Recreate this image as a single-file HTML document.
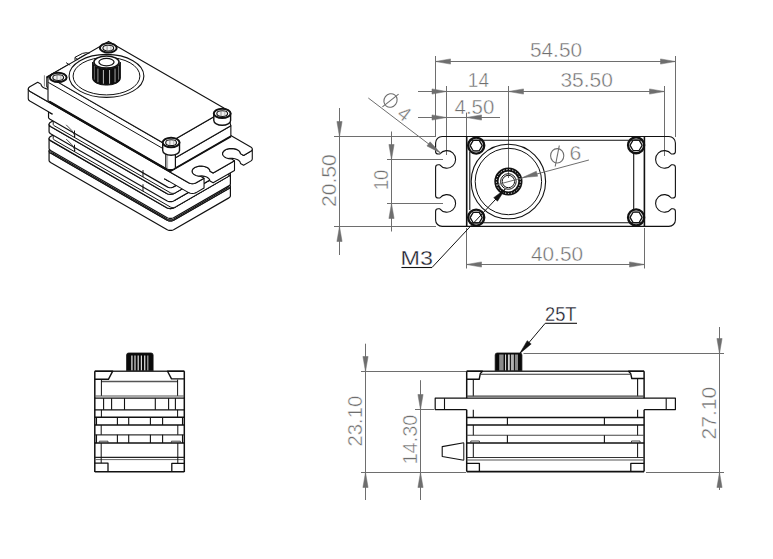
<!DOCTYPE html>
<html><head><meta charset="utf-8"><style>
html,body{margin:0;padding:0;background:#fff;width:773px;height:559px;overflow:hidden}
svg{display:block}
text{font-family:"Liberation Sans",sans-serif}
</style></head><body>
<svg width="773" height="559" viewBox="0 0 773 559">
<line x1="435.5" y1="61.5" x2="675.5" y2="61.5" stroke="#6e6e6e" stroke-width="1.0" />
<path d="M435.5 61.5 L450.5 64.1 L450.5 58.9 Z" stroke="#6e6e6e" stroke-width="0.5" fill="#6e6e6e" stroke-linejoin="round" />
<path d="M675.5 61.5 L660.5 58.9 L660.5 64.1 Z" stroke="#6e6e6e" stroke-width="0.5" fill="#6e6e6e" stroke-linejoin="round" />
<line x1="435.5" y1="56" x2="435.5" y2="137" stroke="#6e6e6e" stroke-width="1.0" />
<line x1="675.5" y1="56" x2="675.5" y2="137" stroke="#6e6e6e" stroke-width="1.0" />
<text x="530" y="57" font-size="20.5" fill="#6e6e6e" textLength="52" lengthAdjust="spacingAndGlyphs" stroke="#fff" stroke-width="0.45" >54.50</text>
<line x1="418" y1="91.5" x2="664.5" y2="91.5" stroke="#6e6e6e" stroke-width="1.0" />
<path d="M446.5 91.5 L432 88.9 L432 94.1 Z" stroke="#6e6e6e" stroke-width="0.5" fill="#6e6e6e" stroke-linejoin="round" />
<path d="M508.5 91.5 L523.5 94.1 L523.5 88.9 Z" stroke="#6e6e6e" stroke-width="0.5" fill="#6e6e6e" stroke-linejoin="round" />
<path d="M664.5 91.5 L649.5 88.9 L649.5 94.1 Z" stroke="#6e6e6e" stroke-width="0.5" fill="#6e6e6e" stroke-linejoin="round" />
<line x1="446.5" y1="86" x2="446.5" y2="155" stroke="#6e6e6e" stroke-width="1.0" />
<line x1="508.5" y1="86" x2="508.5" y2="178" stroke="#6e6e6e" stroke-width="1.0" />
<line x1="664.5" y1="86" x2="664.5" y2="156" stroke="#6e6e6e" stroke-width="1.0" />
<text x="467.8" y="87.2" font-size="20.5" fill="#6e6e6e" textLength="21.2" lengthAdjust="spacingAndGlyphs" stroke="#fff" stroke-width="0.45" >14</text>
<text x="560.4" y="87.3" font-size="20.5" fill="#6e6e6e" textLength="52.4" lengthAdjust="spacingAndGlyphs" stroke="#fff" stroke-width="0.45" >35.50</text>
<line x1="418" y1="117.5" x2="500" y2="117.5" stroke="#6e6e6e" stroke-width="1.0" />
<path d="M446.5 117.5 L432 114.9 L432 120.1 Z" stroke="#6e6e6e" stroke-width="0.5" fill="#6e6e6e" stroke-linejoin="round" />
<path d="M466.5 117.5 L481.5 120.1 L481.5 114.9 Z" stroke="#6e6e6e" stroke-width="0.5" fill="#6e6e6e" stroke-linejoin="round" />
<line x1="466.5" y1="112.6" x2="466.5" y2="137" stroke="#6e6e6e" stroke-width="1.0" />
<text x="454.6" y="114.1" font-size="20.5" fill="#6e6e6e" textLength="39.7" lengthAdjust="spacingAndGlyphs" stroke="#fff" stroke-width="0.45" >4.50</text>
<line x1="339.5" y1="108" x2="339.5" y2="255" stroke="#6e6e6e" stroke-width="1.0" />
<path d="M339.5 136.5 L342.1 121.5 L336.9 121.5 Z" stroke="#6e6e6e" stroke-width="0.5" fill="#6e6e6e" stroke-linejoin="round" />
<path d="M339.5 226.5 L336.9 241.5 L342.1 241.5 Z" stroke="#6e6e6e" stroke-width="0.5" fill="#6e6e6e" stroke-linejoin="round" />
<line x1="334" y1="136.5" x2="436" y2="136.5" stroke="#6e6e6e" stroke-width="1.0" />
<line x1="334" y1="226.5" x2="436" y2="226.5" stroke="#6e6e6e" stroke-width="1.0" />
<g transform="translate(328.2 180.6) rotate(-90)"><text x="-26.5" y="7.34" font-size="20.5" fill="#6e6e6e" textLength="53" lengthAdjust="spacingAndGlyphs" stroke="#fff" stroke-width="0.45">20.50</text></g>
<line x1="391.5" y1="131.5" x2="391.5" y2="231.5" stroke="#6e6e6e" stroke-width="1.0" />
<path d="M391.5 159.5 L394.1 144.5 L388.9 144.5 Z" stroke="#6e6e6e" stroke-width="0.5" fill="#6e6e6e" stroke-linejoin="round" />
<path d="M391.5 203.5 L388.9 218.5 L394.1 218.5 Z" stroke="#6e6e6e" stroke-width="0.5" fill="#6e6e6e" stroke-linejoin="round" />
<line x1="387" y1="159.5" x2="443" y2="159.5" stroke="#6e6e6e" stroke-width="1.0" />
<line x1="387" y1="203.5" x2="443" y2="203.5" stroke="#6e6e6e" stroke-width="1.0" />
<g transform="translate(381 180) rotate(-90)"><text x="-10.3" y="7.34" font-size="20.5" fill="#6e6e6e" textLength="20.6" lengthAdjust="spacingAndGlyphs" stroke="#fff" stroke-width="0.45">10</text></g>
<line x1="466.5" y1="264.5" x2="644.5" y2="264.5" stroke="#6e6e6e" stroke-width="1.0" />
<path d="M466.5 264.5 L481.5 267.1 L481.5 261.9 Z" stroke="#6e6e6e" stroke-width="0.5" fill="#6e6e6e" stroke-linejoin="round" />
<path d="M644.5 264.5 L629.5 261.9 L629.5 267.1 Z" stroke="#6e6e6e" stroke-width="0.5" fill="#6e6e6e" stroke-linejoin="round" />
<line x1="466.5" y1="228" x2="466.5" y2="268.5" stroke="#6e6e6e" stroke-width="1.0" />
<line x1="644.5" y1="228" x2="644.5" y2="268.5" stroke="#6e6e6e" stroke-width="1.0" />
<text x="531" y="261.1" font-size="20.5" fill="#6e6e6e" textLength="52" lengthAdjust="spacingAndGlyphs" stroke="#fff" stroke-width="0.45" >40.50</text>
<path d="M442.1 136.5 L668.9 136.5 A6.5 6.5 0 0 1 675.4 143 L675.4 151.4 Q675.4 154 672.8 154 L671.35 154 A8.8 8.8 0 1 0 671.35 164.8 L672.8 164.8 Q675.4 164.8 675.4 167.4 L675.4 195.4 Q675.4 198 672.8 198 L671.35 198 A8.8 8.8 0 1 0 671.35 208.8 L672.8 208.8 Q675.4 208.8 675.4 211.4 L675.4 219.9 A6.5 6.5 0 0 1 668.9 226.4 L442.1 226.4 A6.5 6.5 0 0 1 435.6 219.9 L435.6 211.4 Q435.6 208.8 438.2 208.8 L439.85 208.8 A8.8 8.8 0 1 0 439.85 198 L438.2 198 Q435.6 198 435.6 195.4 L435.6 167.4 Q435.6 164.8 438.2 164.8 L439.85 164.8 A8.8 8.8 0 1 0 439.85 154 L438.2 154 Q435.6 154 435.6 151.4 L435.6 143 A6.5 6.5 0 0 1 442.1 136.5 Z" stroke="#111" stroke-width="1.1" fill="none" stroke-linejoin="round" />
<line x1="466.7" y1="136.5" x2="466.7" y2="226.2" stroke="#111" stroke-width="1.6" />
<line x1="644.4" y1="136.5" x2="644.4" y2="226.2" stroke="#111" stroke-width="1.6" />
<line x1="469.8" y1="140.2" x2="641.5" y2="140.2" stroke="#111" stroke-width="1.1" />
<line x1="469.8" y1="222.7" x2="641.5" y2="222.7" stroke="#111" stroke-width="1.1" />
<line x1="469.8" y1="152" x2="469.8" y2="210" stroke="#111" stroke-width="1.1" />
<line x1="633.7" y1="154" x2="633.7" y2="210" stroke="#111" stroke-width="1.1" />
<circle cx="476.2" cy="145.6" r="8" stroke="#111" stroke-width="2.4" fill="none" />
<circle cx="476.2" cy="145.6" r="5.7" stroke="#555" stroke-width="0.6" fill="none" />
<path d="M482.2 145.6 L479.2 150.8 L473.2 150.8 L470.2 145.6 L473.2 140.4 L479.2 140.4 Z" stroke="#111" stroke-width="1.2" fill="none" stroke-linejoin="round" />
<circle cx="476.2" cy="217.6" r="8" stroke="#111" stroke-width="2.4" fill="none" />
<circle cx="476.2" cy="217.6" r="5.7" stroke="#555" stroke-width="0.6" fill="none" />
<path d="M482.2 217.6 L479.2 222.8 L473.2 222.8 L470.2 217.6 L473.2 212.4 L479.2 212.4 Z" stroke="#111" stroke-width="1.2" fill="none" stroke-linejoin="round" />
<circle cx="636.1" cy="145.3" r="8" stroke="#111" stroke-width="2.4" fill="none" />
<circle cx="636.1" cy="145.3" r="5.7" stroke="#555" stroke-width="0.6" fill="none" />
<path d="M642.1 145.3 L639.1 150.5 L633.1 150.5 L630.1 145.3 L633.1 140.1 L639.1 140.1 Z" stroke="#111" stroke-width="1.2" fill="none" stroke-linejoin="round" />
<circle cx="636.1" cy="217.4" r="8" stroke="#111" stroke-width="2.4" fill="none" />
<circle cx="636.1" cy="217.4" r="5.7" stroke="#555" stroke-width="0.6" fill="none" />
<path d="M642.1 217.4 L639.1 222.6 L633.1 222.6 L630.1 217.4 L633.1 212.2 L639.1 212.2 Z" stroke="#111" stroke-width="1.2" fill="none" stroke-linejoin="round" />
<circle cx="508.4" cy="181.5" r="37.2" stroke="#111" stroke-width="1.1" fill="none" />
<circle cx="508.4" cy="181.5" r="33.2" stroke="#111" stroke-width="1.0" fill="none" />
<circle cx="508.4" cy="181.5" r="12" stroke="#111" stroke-width="4.2" fill="none" />
<circle cx="508.4" cy="181.5" r="12" stroke="#fff" stroke-width="1.0" fill="none" stroke-dasharray="1.2 1.8"/>
<circle cx="508.4" cy="181.5" r="7.8" stroke="#111" stroke-width="1.0" fill="none" />
<circle cx="508.4" cy="181.5" r="6.2" stroke="#111" stroke-width="1.0" fill="none" />
<line x1="588.9" y1="160" x2="496" y2="185" stroke="#6e6e6e" stroke-width="1.0" />
<path d="M522.5 177.6 L537.68 176.21 L536.32 171.19 Z" stroke="#6e6e6e" stroke-width="0.5" fill="#6e6e6e" stroke-linejoin="round" />
<ellipse cx="557.2" cy="155.8" rx="6.6" ry="7.2" stroke="#6e6e6e" stroke-width="1.1" fill="none" transform="rotate(0 557.2 155.8)"/>
<line x1="559.3" y1="145.5" x2="555.2" y2="166.5" stroke="#6e6e6e" stroke-width="1.1" />
<text x="569.4" y="159.6" font-size="20.5" fill="#6e6e6e" textLength="11.8" lengthAdjust="spacingAndGlyphs" stroke="#fff" stroke-width="0.45" >6</text>
<line x1="368.3" y1="98" x2="440.5" y2="153" stroke="#6e6e6e" stroke-width="1.0" />
<path d="M440.5 153 L430.07 141.83 L426.93 145.97 Z" stroke="#6e6e6e" stroke-width="0.5" fill="#6e6e6e" stroke-linejoin="round" />
<g transform="translate(390.5 100.5) rotate(37)">
<ellipse cx="0" cy="0" rx="6.4" ry="7" stroke="#6e6e6e" stroke-width="1.1" fill="none" transform="rotate(0 0 0)"/>
<line x1="2.6" y1="-10" x2="-2.6" y2="10" stroke="#6e6e6e" stroke-width="1.1" />
</g>
<g transform="translate(404.5 113.5) rotate(37)"><text x="-5.25" y="7.34" font-size="20.5" fill="#6e6e6e" textLength="10.5" lengthAdjust="spacingAndGlyphs" stroke="#fff" stroke-width="0.45">4</text></g>
<line x1="401.4" y1="267.5" x2="432" y2="267.5" stroke="#111" stroke-width="1.1" />
<line x1="432" y1="267.5" x2="505.2" y2="189.1" stroke="#111" stroke-width="1.0" />
<path d="M505.2 189.1 L493.7 197.63 L497.5 201.17 Z" stroke="#111" stroke-width="0.5" fill="#111" stroke-linejoin="round" />
<text x="400.6" y="264.6" font-size="20.5" fill="#1b1b2b" textLength="32.4" lengthAdjust="spacingAndGlyphs" stroke="#fff" stroke-width="0.3" >M3</text>
<line x1="365.5" y1="343.7" x2="365.5" y2="500" stroke="#6e6e6e" stroke-width="1.0" />
<path d="M365.5 371.5 L368.1 356.5 L362.9 356.5 Z" stroke="#6e6e6e" stroke-width="0.5" fill="#6e6e6e" stroke-linejoin="round" />
<path d="M365.5 472.5 L362.9 487.5 L368.1 487.5 Z" stroke="#6e6e6e" stroke-width="0.5" fill="#6e6e6e" stroke-linejoin="round" />
<line x1="361" y1="371.5" x2="466" y2="371.5" stroke="#6e6e6e" stroke-width="1.0" />
<line x1="361" y1="472.5" x2="466" y2="472.5" stroke="#6e6e6e" stroke-width="1.0" />
<g transform="translate(354.8 421.1) rotate(-90)"><text x="-25.5" y="7.34" font-size="20.5" fill="#6e6e6e" textLength="51" lengthAdjust="spacingAndGlyphs" stroke="#fff" stroke-width="0.45">23.10</text></g>
<line x1="420.5" y1="380.2" x2="420.5" y2="500" stroke="#6e6e6e" stroke-width="1.0" />
<path d="M420.5 409.5 L423.1 394.5 L417.9 394.5 Z" stroke="#6e6e6e" stroke-width="0.5" fill="#6e6e6e" stroke-linejoin="round" />
<path d="M420.5 472.5 L417.9 487.5 L423.1 487.5 Z" stroke="#6e6e6e" stroke-width="0.5" fill="#6e6e6e" stroke-linejoin="round" />
<line x1="415" y1="409.5" x2="434" y2="409.5" stroke="#6e6e6e" stroke-width="1.0" />
<g transform="translate(409.4 439.6) rotate(-90)"><text x="-25" y="7.34" font-size="20.5" fill="#6e6e6e" textLength="50" lengthAdjust="spacingAndGlyphs" stroke="#fff" stroke-width="0.45">14.30</text></g>
<line x1="719.5" y1="327" x2="719.5" y2="490" stroke="#6e6e6e" stroke-width="1.0" />
<path d="M719.5 353.5 L722.1 338.5 L716.9 338.5 Z" stroke="#6e6e6e" stroke-width="0.5" fill="#6e6e6e" stroke-linejoin="round" />
<path d="M719.5 472.5 L716.9 487.5 L722.1 487.5 Z" stroke="#6e6e6e" stroke-width="0.5" fill="#6e6e6e" stroke-linejoin="round" />
<line x1="523.5" y1="353.5" x2="724" y2="353.5" stroke="#6e6e6e" stroke-width="1.0" />
<line x1="646" y1="472.5" x2="724" y2="472.5" stroke="#6e6e6e" stroke-width="1.0" />
<g transform="translate(708.2 413.1) rotate(-90)"><text x="-26.3" y="7.34" font-size="20.5" fill="#6e6e6e" textLength="52.6" lengthAdjust="spacingAndGlyphs" stroke="#fff" stroke-width="0.45">27.10</text></g>
<line x1="545.2" y1="323.3" x2="577" y2="323.3" stroke="#111" stroke-width="1.1" />
<line x1="545.2" y1="323.3" x2="519.6" y2="353.7" stroke="#111" stroke-width="1.0" />
<path d="M519.6 353.7 L531.19 343.97 L527.21 340.63 Z" stroke="#111" stroke-width="0.5" fill="#111" stroke-linejoin="round" />
<text x="545" y="320.6" font-size="20.5" fill="#1b1b2b" textLength="31.5" lengthAdjust="spacingAndGlyphs" stroke="#fff" stroke-width="0.3" >25T</text>
<path d="M495.2 371 L495.2 355 Q495.2 353 497.2 353 L519.9 353 Q521.9 353 521.9 355 L521.9 371 Z" stroke="#111" stroke-width="0.8" fill="#0a0a0a" stroke-linejoin="round" />
<rect x="499.2" y="354.5" width="4.4" height="16" fill="#8a8a8a"/>
<rect x="505.1" y="354.5" width="1" height="16" fill="#e8e8e8"/>
<rect x="507.9" y="354.5" width="1.9" height="16" fill="#d0d0d0"/>
<rect x="510.9" y="354.5" width="3" height="16" fill="#b0b0b0"/>
<rect x="514.9" y="354.5" width="3.1" height="16" fill="#8a8a8a"/>
<line x1="466.7" y1="371.3" x2="644.1" y2="371.3" stroke="#333" stroke-width="1.4" />
<line x1="480.8" y1="374.2" x2="630" y2="374.2" stroke="#333" stroke-width="1.1" />
<path d="M466.7 371.2 L482.4 371.2 L480.3 373.6 L479.2 379.3 L466.7 379.3" stroke="#111" stroke-width="1.4" fill="none" stroke-linejoin="round" />
<path d="M644.1 371.2 L628.6 371.2 L630.7 373.6 L631.8 378.5 L644.1 378.5" stroke="#111" stroke-width="1.4" fill="none" stroke-linejoin="round" />
<line x1="466.7" y1="371.2" x2="466.7" y2="398.2" stroke="#111" stroke-width="1.5" />
<line x1="644.1" y1="371.2" x2="644.1" y2="398.2" stroke="#111" stroke-width="1.5" />
<line x1="473.3" y1="379.3" x2="473.3" y2="396.2" stroke="#111" stroke-width="1.1" />
<line x1="637.6" y1="378.5" x2="637.6" y2="396.2" stroke="#111" stroke-width="1.1" />
<line x1="466.7" y1="396.1" x2="644.1" y2="396.1" stroke="#444" stroke-width="1.1" />
<path d="M466.7 409.6 L435.2 409.6 L435.2 398.2 L675.4 398.2 L675.4 409.6 L644.1 409.6" stroke="#111" stroke-width="1.2" fill="none" stroke-linejoin="round" />
<line x1="444.5" y1="398.2" x2="444.5" y2="409.7" stroke="#111" stroke-width="1.1" />
<line x1="666.2" y1="398.2" x2="666.2" y2="409.7" stroke="#111" stroke-width="1.1" />
<line x1="466.7" y1="409.7" x2="466.7" y2="471.6" stroke="#111" stroke-width="1.5" />
<line x1="644.1" y1="409.7" x2="644.1" y2="471.6" stroke="#111" stroke-width="1.5" />
<line x1="473.3" y1="409.7" x2="473.3" y2="417.4" stroke="#111" stroke-width="1.1" />
<line x1="637.6" y1="409.7" x2="637.6" y2="417.4" stroke="#111" stroke-width="1.1" />
<line x1="466.7" y1="417.4" x2="644.1" y2="417.4" stroke="#111" stroke-width="1.5" />
<line x1="466.7" y1="425" x2="644.1" y2="425" stroke="#111" stroke-width="1.5" />
<line x1="466.7" y1="435.3" x2="644.1" y2="435.3" stroke="#444" stroke-width="1.1" />
<line x1="466.7" y1="443" x2="644.1" y2="443" stroke="#111" stroke-width="1.5" />
<line x1="466.7" y1="457.5" x2="644.1" y2="457.5" stroke="#333" stroke-width="1.1" />
<line x1="466.7" y1="460" x2="644.1" y2="460" stroke="#555" stroke-width="1.0" />
<line x1="466.7" y1="471.6" x2="644.1" y2="471.6" stroke="#111" stroke-width="1.6" />
<line x1="507.4" y1="417.4" x2="507.4" y2="425" stroke="#111" stroke-width="1.1" />
<line x1="507.4" y1="435.3" x2="507.4" y2="443" stroke="#111" stroke-width="1.1" />
<line x1="604.4" y1="417.4" x2="604.4" y2="425" stroke="#111" stroke-width="1.1" />
<line x1="604.4" y1="435.3" x2="604.4" y2="443" stroke="#111" stroke-width="1.1" />
<line x1="473.3" y1="425" x2="473.3" y2="435.3" stroke="#111" stroke-width="1.0" />
<line x1="637.6" y1="425" x2="637.6" y2="435.3" stroke="#111" stroke-width="1.0" />
<line x1="473.3" y1="443" x2="473.3" y2="457.5" stroke="#111" stroke-width="1.0" />
<line x1="637.6" y1="443" x2="637.6" y2="457.5" stroke="#111" stroke-width="1.0" />
<path d="M466.7 463.3 L479.4 463.3 L479.4 471.6" stroke="#111" stroke-width="1.3" fill="none" stroke-linejoin="round" />
<path d="M644.1 463.3 L630.8 463.3 L630.8 471.6" stroke="#111" stroke-width="1.3" fill="none" stroke-linejoin="round" />
<path d="M470.8 443 L470.8 441 L479.4 441 L479.4 443" stroke="#333" stroke-width="0.9" fill="none" stroke-linejoin="round" />
<path d="M631.5 443 L631.5 441 L640 441 L640 443" stroke="#333" stroke-width="0.9" fill="none" stroke-linejoin="round" />
<path d="M463.8 442.8 L442.2 446.6 L442.2 456.5 L463.8 460.2" stroke="#111" stroke-width="1.1" fill="none" stroke-linejoin="round" />
<line x1="463.8" y1="442.8" x2="463.8" y2="460.2" stroke="#111" stroke-width="1.0" />
<path d="M126.6 371 L126.6 355 Q126.6 353 128.6 353 L151.1 353 Q153.1 353 153.1 355 L153.1 371 Z" stroke="#111" stroke-width="0.8" fill="#0a0a0a" stroke-linejoin="round" />
<rect x="131.2" y="355.5" width="1.4" height="15" fill="#cfcfcf"/>
<rect x="134.4" y="355.5" width="1.2" height="15" fill="#dcdcdc"/>
<rect x="137.6" y="355.5" width="1.2" height="15" fill="#e0e0e0"/>
<rect x="140.8" y="355.5" width="1.2" height="15" fill="#d8d8d8"/>
<rect x="144" y="355.5" width="1.4" height="15" fill="#c8c8c8"/>
<rect x="147.2" y="355.5" width="1.2" height="15" fill="#aaaaaa"/>
<line x1="94.8" y1="371.3" x2="184.3" y2="371.3" stroke="#333" stroke-width="1.4" />
<path d="M94.8 371.2 L112.7 371.2 L108.4 379.3 L94.8 379.3" stroke="#111" stroke-width="1.4" fill="none" stroke-linejoin="round" />
<path d="M184.3 371.2 L167.5 371.2 L171.5 378.9 L184.3 378.9" stroke="#111" stroke-width="1.4" fill="none" stroke-linejoin="round" />
<line x1="101" y1="381.5" x2="178" y2="381.5" stroke="#555" stroke-width="1.4" />
<line x1="94.8" y1="371.2" x2="94.8" y2="472" stroke="#111" stroke-width="1.5" />
<line x1="184.3" y1="371.2" x2="184.3" y2="472" stroke="#111" stroke-width="1.5" />
<line x1="101.4" y1="379.5" x2="101.4" y2="396" stroke="#111" stroke-width="1.0" />
<line x1="177.6" y1="379.5" x2="177.6" y2="396" stroke="#111" stroke-width="1.0" />
<line x1="94.8" y1="396" x2="184.3" y2="396" stroke="#555" stroke-width="1.1" />
<line x1="94.8" y1="398.2" x2="184.3" y2="398.2" stroke="#111" stroke-width="1.3" />
<line x1="94.8" y1="409.8" x2="184.3" y2="409.8" stroke="#111" stroke-width="1.3" />
<line x1="94.8" y1="417.3" x2="184.3" y2="417.3" stroke="#111" stroke-width="1.5" />
<line x1="94.8" y1="425" x2="184.3" y2="425" stroke="#111" stroke-width="1.5" />
<line x1="94.8" y1="434.8" x2="184.3" y2="434.8" stroke="#333" stroke-width="1.2" />
<line x1="94.8" y1="443.1" x2="184.3" y2="443.1" stroke="#111" stroke-width="1.5" />
<line x1="94.8" y1="457.4" x2="184.3" y2="457.4" stroke="#222" stroke-width="1.4" />
<line x1="94.8" y1="459.6" x2="184.3" y2="459.6" stroke="#666" stroke-width="1.0" />
<line x1="94.8" y1="471.8" x2="184.3" y2="471.8" stroke="#111" stroke-width="1.6" />
<line x1="103.6" y1="398.2" x2="103.6" y2="409.8" stroke="#111" stroke-width="1.1" />
<line x1="111.6" y1="398.2" x2="111.6" y2="409.8" stroke="#111" stroke-width="1.1" />
<line x1="124.5" y1="398.2" x2="124.5" y2="409.8" stroke="#111" stroke-width="1.1" />
<line x1="155.3" y1="398.2" x2="155.3" y2="409.8" stroke="#111" stroke-width="1.1" />
<line x1="168.6" y1="398.2" x2="168.6" y2="409.8" stroke="#111" stroke-width="1.1" />
<line x1="175.4" y1="398.2" x2="175.4" y2="409.8" stroke="#111" stroke-width="1.1" />
<line x1="101.4" y1="409.8" x2="101.4" y2="417.3" stroke="#111" stroke-width="1.0" />
<line x1="177.6" y1="409.8" x2="177.6" y2="417.3" stroke="#111" stroke-width="1.0" />
<line x1="96.5" y1="417.3" x2="96.5" y2="425" stroke="#111" stroke-width="1.1" />
<line x1="96.5" y1="434.8" x2="96.5" y2="443.1" stroke="#111" stroke-width="1.1" />
<line x1="117.4" y1="417.3" x2="117.4" y2="425" stroke="#111" stroke-width="1.1" />
<line x1="117.4" y1="434.8" x2="117.4" y2="443.1" stroke="#111" stroke-width="1.1" />
<line x1="128.7" y1="417.3" x2="128.7" y2="425" stroke="#111" stroke-width="1.1" />
<line x1="128.7" y1="434.8" x2="128.7" y2="443.1" stroke="#111" stroke-width="1.1" />
<line x1="150.4" y1="417.3" x2="150.4" y2="425" stroke="#111" stroke-width="1.1" />
<line x1="150.4" y1="434.8" x2="150.4" y2="443.1" stroke="#111" stroke-width="1.1" />
<line x1="162.6" y1="417.3" x2="162.6" y2="425" stroke="#111" stroke-width="1.1" />
<line x1="162.6" y1="434.8" x2="162.6" y2="443.1" stroke="#111" stroke-width="1.1" />
<line x1="182.5" y1="417.3" x2="182.5" y2="425" stroke="#111" stroke-width="1.1" />
<line x1="182.5" y1="434.8" x2="182.5" y2="443.1" stroke="#111" stroke-width="1.1" />
<line x1="101.2" y1="425" x2="101.2" y2="434.8" stroke="#111" stroke-width="1.0" />
<line x1="177.8" y1="425" x2="177.8" y2="434.8" stroke="#111" stroke-width="1.0" />
<line x1="101.2" y1="443.1" x2="101.2" y2="463.2" stroke="#111" stroke-width="1.0" />
<line x1="177.8" y1="443.1" x2="177.8" y2="463.2" stroke="#111" stroke-width="1.0" />
<path d="M99.3 443.1 L99.3 441.2 L108 441.2 L108 443.1" stroke="#333" stroke-width="0.9" fill="none" stroke-linejoin="round" />
<path d="M171.4 443.1 L171.4 441.2 L180.4 441.2 L180.4 443.1" stroke="#333" stroke-width="0.9" fill="none" stroke-linejoin="round" />
<path d="M94.8 463.2 L108 463.2 L108 471.8" stroke="#111" stroke-width="1.3" fill="none" stroke-linejoin="round" />
<path d="M184.3 463.3 L171.8 463.3 L171.8 471.8" stroke="#111" stroke-width="1.3" fill="none" stroke-linejoin="round" />
<path d="M49.07 150.9 L49.24 151.67 L49.76 152.38 L50.58 153 L166.78 220.07 L167.84 220.54 L169.08 220.84 L170.41 220.94 L171.74 220.84 L172.98 220.54 L174.05 220.07 L228.89 188.41 L229.71 187.8 L230.22 187.08 L230.4 186.32 L230.4 195.78 L230.22 196.55 L229.71 197.26 L228.89 197.88 L174.05 229.54 L172.98 230.01 L171.74 230.3 L170.41 230.4 L169.08 230.3 L167.84 230.01 L166.78 229.54 L50.58 162.46 L49.76 161.85 L49.24 161.13 L49.07 160.36 Z" stroke="#111" stroke-width="1.2" fill="#fff" stroke-linejoin="round" />
<path d="M166.78 220.07 L167.84 220.54 L169.08 220.84 L170.41 220.94 L171.74 220.84 L172.98 220.54 L174.05 220.07 L228.89 188.41 L229.71 187.8 L230.22 187.08 L230.4 186.32 L230.22 185.55 L229.71 184.83 L228.89 184.22 L112.69 117.14 L111.63 116.67 L110.39 116.37 L109.05 116.27 L107.72 116.37 L106.48 116.67 L105.42 117.14 L50.58 148.8 L49.76 149.41 L49.24 150.13 L49.07 150.9 L49.24 151.67 L49.76 152.38 L50.58 153 Z" stroke="#111" stroke-width="1.2" fill="#fff" stroke-linejoin="round" />
<path d="M50.84 148.35 L50.98 148.99 L51.41 149.59 L52.09 150.1 L167.38 216.65 L168.27 217.04 L169.3 217.29 L170.41 217.37 L171.52 217.29 L172.55 217.04 L173.44 216.65 L227.38 185.52 L228.06 185 L228.49 184.41 L228.63 183.77 L228.63 186.32 L228.49 186.96 L228.06 187.55 L227.38 188.06 L173.44 219.2 L172.55 219.59 L171.52 219.84 L170.41 219.92 L169.3 219.84 L168.27 219.59 L167.38 219.2 L52.09 152.65 L51.41 152.14 L50.98 151.54 L50.84 150.9 Z" stroke="#111" stroke-width="1.1" fill="#fff" stroke-linejoin="round" />
<path d="M167.38 216.65 L168.27 217.04 L169.3 217.29 L170.41 217.37 L171.52 217.29 L172.55 217.04 L173.44 216.65 L227.38 185.52 L228.06 185 L228.49 184.41 L228.63 183.77 L228.49 183.13 L228.06 182.53 L227.38 182.02 L112.08 115.47 L111.2 115.08 L110.16 114.83 L109.05 114.74 L107.95 114.83 L106.91 115.08 L106.02 115.47 L52.09 146.6 L51.41 147.11 L50.98 147.71 L50.84 148.35 L50.98 148.99 L51.41 149.59 L52.09 150.1 Z" stroke="#111" stroke-width="1.1" fill="#fff" stroke-linejoin="round" />
<path d="M49.07 138.52 L49.24 139.29 L49.76 140.01 L50.58 140.62 L166.78 207.7 L167.84 208.17 L169.08 208.46 L170.41 208.56 L171.74 208.46 L172.98 208.17 L174.05 207.7 L228.89 176.04 L229.71 175.42 L230.22 174.71 L230.4 173.94 L230.4 183.77 L230.22 184.54 L229.71 185.25 L228.89 185.87 L174.05 217.52 L172.98 217.99 L171.74 218.29 L170.41 218.39 L169.08 218.29 L167.84 217.99 L166.78 217.52 L50.58 150.45 L49.76 149.83 L49.24 149.12 L49.07 148.35 Z" stroke="#111" stroke-width="1.2" fill="#fff" stroke-linejoin="round" />
<path d="M166.78 207.7 L167.84 208.17 L169.08 208.46 L170.41 208.56 L171.74 208.46 L172.98 208.17 L174.05 207.7 L228.89 176.04 L229.71 175.42 L230.22 174.71 L230.4 173.94 L230.22 173.17 L229.71 172.46 L228.89 171.84 L112.69 104.77 L111.63 104.29 L110.39 104 L109.05 103.9 L107.72 104 L106.48 104.29 L105.42 104.77 L50.58 136.42 L49.76 137.04 L49.24 137.75 L49.07 138.52 L49.24 139.29 L49.76 140.01 L50.58 140.62 Z" stroke="#111" stroke-width="1.2" fill="#fff" stroke-linejoin="round" />
<path d="M53.21 131.61 L53.32 132.12 L53.67 132.6 L54.21 133.01 L170.41 200.08 L171.12 200.39 L171.95 200.59 L172.84 200.66 L173.72 200.59 L174.55 200.39 L175.26 200.08 L227.68 169.82 L228.22 169.41 L228.57 168.93 L228.68 168.42 L228.68 175.34 L228.57 175.85 L228.22 176.33 L227.68 176.74 L175.26 207 L174.55 207.31 L173.72 207.51 L172.84 207.58 L171.95 207.51 L171.12 207.31 L170.41 207 L54.21 139.92 L53.67 139.51 L53.32 139.03 L53.21 138.52 Z" stroke="#111" stroke-width="1.0" fill="#fff" stroke-linejoin="round" />
<path d="M170.41 200.08 L171.12 200.39 L171.95 200.59 L172.84 200.66 L173.72 200.59 L174.55 200.39 L175.26 200.08 L227.68 169.82 L228.22 169.41 L228.57 168.93 L228.68 168.42 L228.57 167.91 L228.22 167.43 L227.68 167.02 L111.48 99.95 L110.77 99.63 L109.94 99.44 L109.05 99.37 L108.17 99.44 L107.34 99.63 L106.63 99.95 L54.21 130.21 L53.67 130.62 L53.32 131.09 L53.21 131.61 L53.32 132.12 L53.67 132.6 L54.21 133.01 Z" stroke="#111" stroke-width="1.0" fill="#fff" stroke-linejoin="round" />
<path d="M49.07 124.33 L49.24 125.09 L49.76 125.81 L50.58 126.43 L166.78 193.5 L167.84 193.97 L169.08 194.27 L170.41 194.37 L171.74 194.27 L172.98 193.97 L174.05 193.5 L228.89 161.84 L229.71 161.23 L230.22 160.51 L230.4 159.74 L230.4 167.02 L230.22 167.79 L229.71 168.51 L228.89 169.12 L174.05 200.78 L172.98 201.25 L171.74 201.55 L170.41 201.65 L169.08 201.55 L167.84 201.25 L166.78 200.78 L50.58 133.71 L49.76 133.09 L49.24 132.37 L49.07 131.61 Z" stroke="#111" stroke-width="1.2" fill="#fff" stroke-linejoin="round" />
<path d="M166.78 193.5 L167.84 193.97 L169.08 194.27 L170.41 194.37 L171.74 194.27 L172.98 193.97 L174.05 193.5 L228.89 161.84 L229.71 161.23 L230.22 160.51 L230.4 159.74 L230.22 158.98 L229.71 158.26 L228.89 157.64 L112.69 90.57 L111.63 90.1 L110.39 89.8 L109.05 89.7 L107.72 89.8 L106.48 90.1 L105.42 90.57 L50.58 122.23 L49.76 122.84 L49.24 123.56 L49.07 124.33 L49.24 125.09 L49.76 125.81 L50.58 126.43 Z" stroke="#111" stroke-width="1.2" fill="#fff" stroke-linejoin="round" />
<path d="M53.21 117.41 L53.32 117.92 L53.67 118.4 L54.21 118.81 L170.41 185.88 L171.12 186.2 L171.95 186.4 L172.84 186.46 L173.72 186.4 L174.55 186.2 L175.26 185.88 L227.68 155.63 L228.22 155.22 L228.57 154.74 L228.68 154.23 L228.68 161.14 L228.57 161.65 L228.22 162.13 L227.68 162.54 L175.26 192.8 L174.55 193.11 L173.72 193.31 L172.84 193.38 L171.95 193.31 L171.12 193.11 L170.41 192.8 L54.21 125.73 L53.67 125.32 L53.32 124.84 L53.21 124.33 Z" stroke="#111" stroke-width="1.0" fill="#fff" stroke-linejoin="round" />
<path d="M170.41 185.88 L171.12 186.2 L171.95 186.4 L172.84 186.46 L173.72 186.4 L174.55 186.2 L175.26 185.88 L227.68 155.63 L228.22 155.22 L228.57 154.74 L228.68 154.23 L228.57 153.71 L228.22 153.24 L227.68 152.83 L111.48 85.75 L110.77 85.44 L109.94 85.24 L109.05 85.17 L108.17 85.24 L107.34 85.44 L106.63 85.75 L54.21 116.01 L53.67 116.42 L53.32 116.9 L53.21 117.41 L53.32 117.92 L53.67 118.4 L54.21 118.81 Z" stroke="#111" stroke-width="1.0" fill="#fff" stroke-linejoin="round" />
<path d="M48.54 110.86 L48.67 111.43 L49.05 111.97 L49.67 112.43 L167.69 180.56 L168.48 180.91 L169.41 181.13 L170.41 181.21 L171.41 181.13 L172.34 180.91 L173.14 180.56 L229.8 147.85 L230.41 147.39 L230.8 146.85 L230.93 146.28 L230.93 152.83 L230.8 153.4 L230.41 153.94 L229.8 154.4 L173.14 187.11 L172.34 187.46 L171.41 187.68 L170.41 187.76 L169.41 187.68 L168.48 187.46 L167.69 187.11 L49.67 118.98 L49.05 118.52 L48.67 117.99 L48.54 117.41 Z" stroke="#111" stroke-width="1.2" fill="#fff" stroke-linejoin="round" />
<path d="M167.69 180.56 L168.48 180.91 L169.41 181.13 L170.41 181.21 L171.41 181.13 L172.34 180.91 L173.14 180.56 L229.8 147.85 L230.41 147.39 L230.8 146.85 L230.93 146.28 L230.8 145.7 L230.41 145.16 L229.8 144.7 L111.78 76.58 L110.98 76.22 L110.05 76 L109.05 75.93 L108.06 76 L107.13 76.22 L106.33 76.58 L49.67 109.28 L49.05 109.75 L48.67 110.28 L48.54 110.86 L48.67 111.43 L49.05 111.97 L49.67 112.43 Z" stroke="#111" stroke-width="1.2" fill="#fff" stroke-linejoin="round" />
<line x1="74.51" y1="151.64" x2="74.51" y2="144.72" stroke="#111" stroke-width="1.0" />
<line x1="74.51" y1="137.44" x2="74.51" y2="130.53" stroke="#111" stroke-width="1.0" />
<line x1="142.99" y1="191.17" x2="142.99" y2="184.25" stroke="#111" stroke-width="1.0" />
<line x1="142.99" y1="176.97" x2="142.99" y2="170.06" stroke="#111" stroke-width="1.0" />
<path d="M66.18 139.04 Q72.85 144.53 75.27 150.47" stroke="#333" stroke-width="0.9" fill="none" stroke-linejoin="round" />
<path d="M66.18 124.84 Q72.85 130.33 75.27 136.28" stroke="#333" stroke-width="0.9" fill="none" stroke-linejoin="round" />
<path d="M77.24 59.4 L80.51 61.29 L83.11 61.53 L85.48 62.19 L87.41 63.22 L88.75 64.52 L89.38 66 L89.38 75.83 L88.75 74.35 L87.41 73.05 L85.48 72.02 L83.11 71.36 L80.51 71.12 L77.24 69.23 Z" stroke="#111" stroke-width="1.1" fill="#fff" stroke-linejoin="round" />
<path d="M46.79 76.98 L50.06 78.87 L52.66 79.11 L55.03 79.77 L56.96 80.8 L58.3 82.1 L58.93 83.58 L58.93 93.4 L58.3 91.93 L56.96 90.62 L55.03 89.6 L52.66 88.94 L50.06 88.7 L46.79 86.81 Z" stroke="#111" stroke-width="1.1" fill="#fff" stroke-linejoin="round" />
<path d="M222.51 154.16 L222.65 152.65 L223.54 151.22 L225.1 150 L227.21 149.1 L229.69 148.58 L232.31 148.5 L234.87 148.87 L237.13 149.64 L238.91 150.76 L240.05 152.12 L240.46 153.62 L243.59 155.42 L250.71 151.31 L251.87 150.31 L252.28 149.13 L252.28 158.96 L251.87 160.14 L250.71 161.14 L243.59 165.25 L240.46 163.45 L240.05 161.95 L238.91 160.58 L237.13 159.47 L234.87 158.69 L232.31 158.33 L229.69 158.41 L227.21 158.93 L225.1 159.83 L223.54 161.05 L222.65 162.48 L222.51 163.99 Z" stroke="#111" stroke-width="1.1" fill="#fff" stroke-linejoin="round" />
<path d="M28.25 88.96 L28.66 90.15 L29.82 91.15 L188.59 182.8 L190.33 183.47 L192.38 183.7 L194.43 183.47 L196.17 182.8 L204.04 178.25 L204.04 188.08 L196.17 192.62 L194.43 193.29 L192.38 193.53 L190.33 193.29 L188.59 192.62 L29.82 100.98 L28.66 99.97 L28.25 98.79 Z" stroke="#111" stroke-width="1.1" fill="#fff" stroke-linejoin="round" />
<path d="M192.06 171.74 L192.19 170.23 L193.08 168.8 L194.65 167.58 L196.76 166.67 L199.24 166.16 L201.86 166.08 L204.42 166.44 L206.68 167.22 L208.46 168.33 L209.6 169.7 L210.01 171.2 L213.13 173 L234.5 160.67 L234.5 170.5 L213.13 182.83 L210.01 181.03 L209.6 179.53 L208.46 178.16 L206.68 177.04 L204.42 176.27 L201.86 175.91 L199.24 175.99 L196.76 176.5 L194.65 177.41 L193.08 178.63 L192.19 180.05 L192.06 181.57 Z" stroke="#111" stroke-width="1.1" fill="#fff" stroke-linejoin="round" />
<path d="M188.59 182.8 L190.33 183.47 L192.38 183.7 L194.43 183.47 L196.17 182.8 L204.04 178.25 L200.92 176.45 L198.33 176.21 L195.96 175.55 L194.02 174.52 L192.68 173.22 L192.06 171.74 L192.19 170.23 L193.08 168.8 L194.65 167.58 L196.76 166.67 L199.24 166.16 L201.86 166.08 L204.42 166.44 L206.68 167.22 L208.46 168.33 L209.6 169.7 L210.01 171.2 L213.13 173 L234.5 160.67 L231.37 158.87 L228.78 158.63 L226.41 157.97 L224.47 156.94 L223.14 155.64 L222.51 154.16 L222.65 152.65 L223.54 151.22 L225.1 150 L227.21 149.1 L229.69 148.58 L232.31 148.5 L234.87 148.87 L237.13 149.64 L238.91 150.76 L240.05 152.12 L240.46 153.62 L243.59 155.42 L250.71 151.31 L251.87 150.31 L252.28 149.13 L251.87 147.94 L250.71 146.94 L91.94 55.29 L90.2 54.62 L88.15 54.39 L86.1 54.62 L84.36 55.29 L77.24 59.4 L80.51 61.29 L83.11 61.53 L85.48 62.19 L87.41 63.22 L88.75 64.52 L89.38 66 L89.24 67.51 L88.35 68.94 L86.78 70.16 L84.67 71.07 L82.2 71.58 L79.57 71.66 L77.02 71.3 L74.76 70.52 L72.98 69.41 L71.83 68.04 L71.42 66.54 L68.15 64.65 L46.79 76.98 L50.06 78.87 L52.66 79.11 L55.03 79.77 L56.96 80.8 L58.3 82.1 L58.93 83.58 L58.79 85.09 L57.9 86.52 L56.33 87.74 L54.22 88.64 L51.75 89.16 L49.12 89.24 L46.57 88.87 L44.31 88.1 L42.53 86.98 L41.38 85.62 L40.97 84.12 L37.7 82.23 L29.82 86.78 L28.66 87.78 L28.25 88.96 L28.66 90.15 L29.82 91.15 Z" stroke="#111" stroke-width="1.1" fill="#fff" stroke-linejoin="round" />
<line x1="52.7" y1="114.18" x2="164.2" y2="178.54" stroke="#fff" stroke-width="3.2" />
<path d="M48 100.77 L48 76.38 L165.87 144.42 L170.26 160.78 L170.26 171.34 Z" stroke="#111" stroke-width="1.1" fill="#fff" stroke-linejoin="round" />
<path d="M170.26 160.78 L230.86 125.8 L230.86 136.36 L170.26 171.34 Z" stroke="#111" stroke-width="1.1" fill="#fff" stroke-linejoin="round" />
<path d="M165.87 144.42 L226.47 109.44 L230.86 125.8 L170.26 160.78 Z" stroke="#111" stroke-width="1.1" fill="#fff" stroke-linejoin="round" />
<path d="M48 76.38 L165.87 144.42 L226.47 109.44 L108.6 41.4 Z" stroke="#111" stroke-width="1.1" fill="#fff" stroke-linejoin="round" />
<line x1="49.52" y1="101.64" x2="170.26" y2="171.34" stroke="#111" stroke-width="1.8" />
<line x1="48.3" y1="82.38" x2="164.05" y2="149.19" stroke="#111" stroke-width="1.0" />
<line x1="170.26" y1="171.34" x2="230.86" y2="136.36" stroke="#111" stroke-width="1.8" />
<line x1="50.88" y1="102.6" x2="167.08" y2="169.68" stroke="#111" stroke-width="1.0" />
<path d="M165.8 150.5 L165.8 167.2 A4.8 2.4 0 0 0 175.4 167.2 L175.4 150.5 Z" fill="#fff" stroke="#111" stroke-width="1.2"/>
<line x1="167.6" y1="153" x2="167.6" y2="168" stroke="#999" stroke-width="0.8" />
<ellipse cx="58.2" cy="77.4" rx="8.4" ry="4.7" stroke="#111" stroke-width="2.0" fill="#fff" transform="rotate(0 58.2 77.4)"/>
<ellipse cx="58.2" cy="77.6" rx="5.4" ry="2.9" stroke="#111" stroke-width="1.1" fill="#f0f0f0" transform="rotate(0 58.2 77.6)"/>
<line x1="57" y1="74.9" x2="57" y2="80.3" stroke="#888" stroke-width="0.9" />
<line x1="60.8" y1="75.2" x2="60.8" y2="80" stroke="#aaa" stroke-width="0.8" />
<ellipse cx="108.3" cy="47.9" rx="8.4" ry="4.7" stroke="#111" stroke-width="2.0" fill="#fff" transform="rotate(0 108.3 47.9)"/>
<ellipse cx="108.3" cy="48.1" rx="5.4" ry="2.9" stroke="#111" stroke-width="1.1" fill="#f0f0f0" transform="rotate(0 108.3 48.1)"/>
<line x1="107.1" y1="45.4" x2="107.1" y2="50.8" stroke="#888" stroke-width="0.9" />
<line x1="110.9" y1="45.7" x2="110.9" y2="50.5" stroke="#aaa" stroke-width="0.8" />
<path d="M162.7 142.5 L162.7 150.5 A8.4 4.8 0 0 0 179.5 150.5 L179.5 142.5 Z" fill="#fff" stroke="#111" stroke-width="1.4"/>
<ellipse cx="171.1" cy="142.5" rx="8.4" ry="4.7" stroke="#111" stroke-width="2.0" fill="#fff" transform="rotate(0 171.1 142.5)"/>
<ellipse cx="171.1" cy="142.7" rx="5.4" ry="2.9" stroke="#111" stroke-width="1.1" fill="#f0f0f0" transform="rotate(0 171.1 142.7)"/>
<line x1="169.9" y1="140" x2="169.9" y2="145.4" stroke="#888" stroke-width="0.9" />
<line x1="173.7" y1="140.3" x2="173.7" y2="145.1" stroke="#aaa" stroke-width="0.8" />
<path d="M213.8 113.4 L213.8 120.4 A8.4 4.8 0 0 0 230.6 120.4 L230.6 113.4 Z" fill="#fff" stroke="#111" stroke-width="1.4"/>
<ellipse cx="222.2" cy="113.4" rx="8.4" ry="4.7" stroke="#111" stroke-width="2.0" fill="#fff" transform="rotate(0 222.2 113.4)"/>
<ellipse cx="222.2" cy="113.6" rx="5.4" ry="2.9" stroke="#111" stroke-width="1.1" fill="#f0f0f0" transform="rotate(0 222.2 113.6)"/>
<line x1="221" y1="110.9" x2="221" y2="116.3" stroke="#888" stroke-width="0.9" />
<line x1="224.8" y1="111.2" x2="224.8" y2="116" stroke="#aaa" stroke-width="0.8" />
<ellipse cx="106.48" cy="75.91" rx="37.4" ry="21.5" stroke="#111" stroke-width="1.1" fill="none" transform="rotate(0 106.48 75.91)"/>
<ellipse cx="106.48" cy="76.11" rx="33.4" ry="18.8" stroke="#111" stroke-width="1.0" fill="none" transform="rotate(0 106.48 76.11)"/>
<path d="M92.58 78.51 L92.58 62.11 A13.9 6.6 0 0 0 120.39 62.11 L120.39 78.51 A13.9 6.6 0 0 1 92.58 78.51 Z" stroke="#111" stroke-width="1.0" fill="#0d0d0d" stroke-linejoin="round" />
<line x1="94.42" y1="65.95" x2="94.42" y2="79.65" stroke="#777" stroke-width="0.8" />
<line x1="97.93" y1="68.55" x2="97.93" y2="82.25" stroke="#bbb" stroke-width="0.8" />
<line x1="103.4" y1="70.01" x2="103.4" y2="83.71" stroke="#eee" stroke-width="0.8" />
<line x1="109.57" y1="70.01" x2="109.57" y2="83.71" stroke="#eee" stroke-width="0.8" />
<line x1="115.04" y1="68.55" x2="115.04" y2="82.25" stroke="#ccc" stroke-width="0.8" />
<line x1="118.55" y1="65.95" x2="118.55" y2="79.65" stroke="#888" stroke-width="0.8" />
<ellipse cx="106.48" cy="62.11" rx="12.6" ry="6" stroke="#111" stroke-width="1.5" fill="#fff" transform="rotate(0 106.48 62.11)"/>
<ellipse cx="106.48" cy="62.11" rx="7.6" ry="3.7" stroke="#111" stroke-width="1.2" fill="#fff" transform="rotate(0 106.48 62.11)"/>
<path d="M75 60.5 L75 57.3 L82.5 53.4 Q86 52.2 89.5 53.2" stroke="#111" stroke-width="1.0" fill="none" stroke-linejoin="round" />
<line x1="75" y1="57.3" x2="78.2" y2="60.2" stroke="#111" stroke-width="0.9" />
<line x1="66" y1="62.6" x2="70.2" y2="65.2" stroke="#111" stroke-width="0.9" />
<line x1="44.4" y1="75.3" x2="44.4" y2="86.5" stroke="#777" stroke-width="0.9" />
</svg></body></html>
